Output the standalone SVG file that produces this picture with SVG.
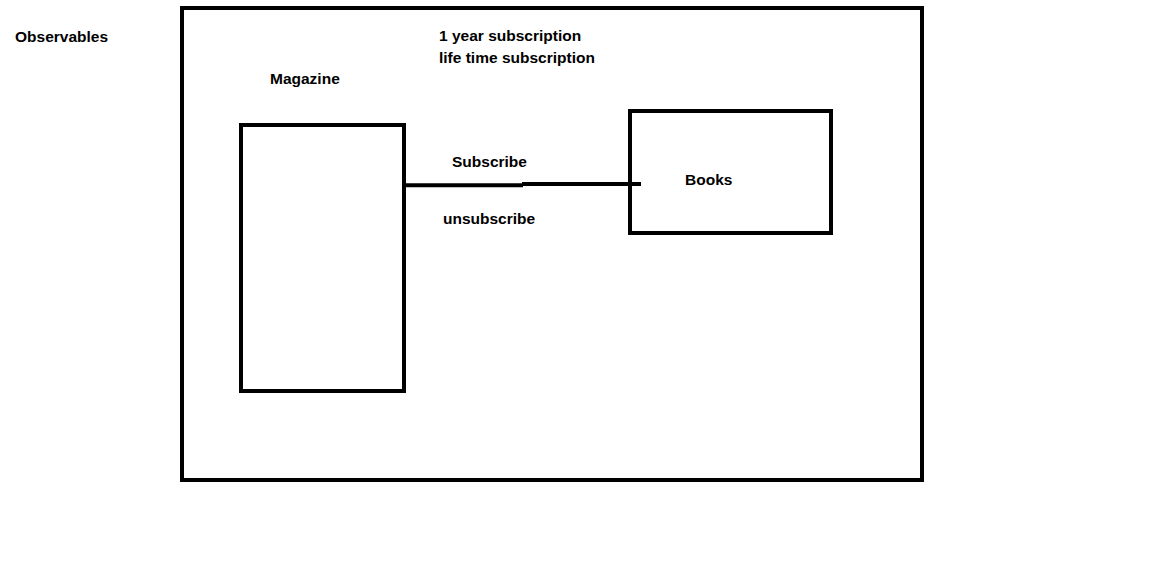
<svg xmlns="http://www.w3.org/2000/svg" width="1153" height="562" viewBox="0 0 1153 562">
<style>
.box{fill:none;stroke:#000;stroke-width:4}
.ln{stroke:#000;stroke-width:4;fill:none}
text{font-family:"Liberation Sans",Arial,sans-serif;font-weight:bold;font-size:15.5px;fill:#000}
</style>
<rect width="1153" height="562" fill="#fff"/>
<text x="15" y="42">Observables</text>
<g id="observables-frame"><rect class="box" x="182" y="8" width="740" height="472"/></g>
<text x="439" y="41">1 year subscription</text>
<text x="439" y="63">life time subscription</text>
<g id="magazine"><rect class="box" x="241" y="125" width="163" height="266"/><text x="270" y="84">Magazine</text></g>
<g id="books"><rect class="box" x="630" y="111" width="201" height="122"/><text x="685" y="185">Books</text></g>
<g id="connectors">
<path class="ln" d="M405 185.3H523"/>
<path class="ln" d="M522 184H641"/>
<text x="452" y="167">Subscribe</text>
<text x="443" y="224">unsubscribe</text>
</g>
</svg>
